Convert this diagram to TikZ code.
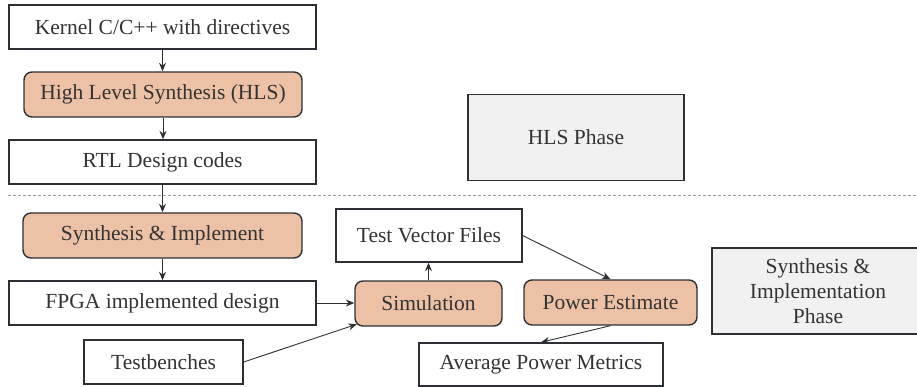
\documentclass[tikz,border=0pt]{standalone}
\usepackage{fontspec}
\setmainfont{Liberation Serif}
\newfontfamily\boxserif{Liberation Serif}
\usetikzlibrary{arrows.meta}
\definecolor{ink}{HTML}{2C3035}
\definecolor{txt}{HTML}{333333}
\definecolor{peach}{HTML}{EDC1A5}
\definecolor{phasegray}{HTML}{F1F1F1}
\definecolor{sepgray}{HTML}{9A9A9A}

\begin{document}
\begin{tikzpicture}[x=1pt,y=-1pt,
  every node/.style={inner sep=0pt, text=txt, font=\boxserif\fontsize{21.5}{25}\selectfont},
  plainbox/.style={draw=ink, line width=1.4pt, fill=white},
  stagebox/.style={draw=ink, line width=1.4pt, fill=peach, rounded corners=8pt},
  phasebox/.style={draw=ink, line width=1.4pt, fill=phasegray, align=center},
  flow/.style={draw=ink, line width=0.9pt, -{Stealth[length=8.5pt,width=7pt]}},
  separator/.style={draw=sepgray, line width=0.9pt, dash pattern=on 3pt off 2pt}
]
\useasboundingbox (0,0) rectangle (917,387);
\clip (0,0) rectangle (917,387);

% HLS part
\node[plainbox, minimum width=307pt, minimum height=44pt] (kernel) at (162.5,27) {Kernel C/C++ with directives};
\node[stagebox, minimum width=278pt, minimum height=45pt] (hls) at (163,94.5) {High Level Synthesis (HLS)};
\node[plainbox, minimum width=307pt, minimum height=44pt] (rtl) at (162.5,162) {RTL Design codes};
\node[phasebox, minimum width=216pt, minimum height=86pt] (hlsphase) at (576,137.5) {HLS Phase};

% phase separator
\coordinate (sepL) at (8,195);
\coordinate (sepR) at (917,195);
\draw[separator] (sepL) -- (sepR);

% implementation part
\node[stagebox, minimum width=279pt, minimum height=45pt] (synth) at (162.5,235.5) {Synthesis \& Implement};
\node[plainbox, minimum width=307pt, minimum height=44pt] (fpga) at (162.5,303) {FPGA implemented design};
\node[plainbox, minimum width=159pt, minimum height=44pt] (tb) at (163.5,362) {Testbenches};
\node[plainbox, minimum width=186pt, minimum height=53pt] (tvf) at (429,235.5) {Test Vector Files};
\node[stagebox, minimum width=147pt, minimum height=45pt] (sim) at (428.5,303.5) {Simulation};
\node[stagebox, minimum width=173pt, minimum height=45pt] (pe) at (610.5,302.5) {Power Estimate};
\node[plainbox, minimum width=244pt, minimum height=43pt] (apm) at (541,364.5) {Average Power Metrics};
\node[phasebox, minimum width=212pt, minimum height=86pt] (siphase) at (818,291) {Synthesis \&\\Implementation\\Phase};

% connectors
\draw[flow] (kernel.south) -- (kernel.south |- hls.north);
\draw[flow] (hls.south) -- (hls.south |- rtl.north);
\draw[flow] (rtl.south) -- (rtl.south |- synth.north);
\draw[flow] (synth.south) -- (synth.south |- fpga.north);
\draw[flow] (fpga.east) -- (fpga.east -| sim.west);
\draw[flow] (tb.east) -- ([xshift=2.5pt,yshift=2.5pt]sim.south west);
\draw[flow] (sim.north) -- (sim.north |- tvf.south);
\draw[flow] (tvf.east) -- (pe.north);
\draw[flow] (pe.south) -- (apm.north);
\end{tikzpicture}
\end{document}
